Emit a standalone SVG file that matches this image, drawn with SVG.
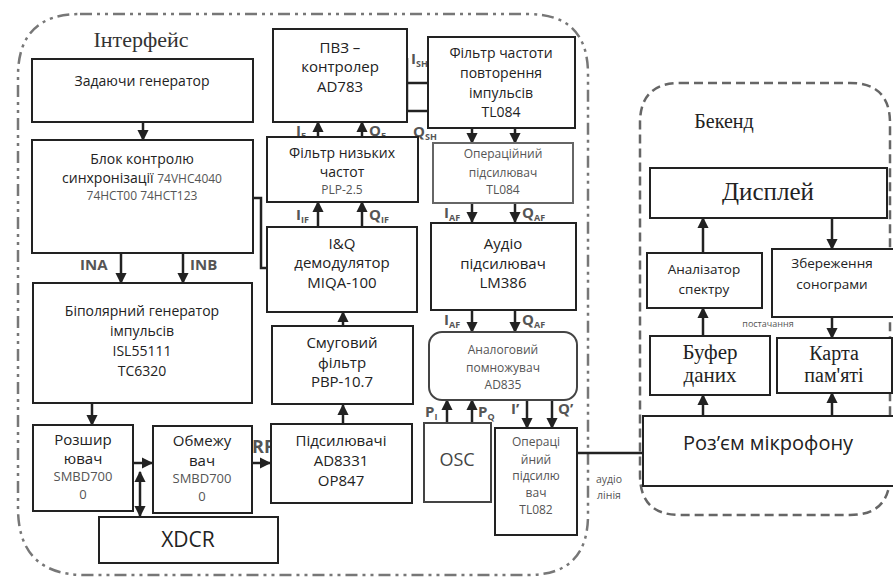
<svg xmlns="http://www.w3.org/2000/svg" width="893" height="578" viewBox="0 0 893 578">
<defs>
<marker id="ah" viewBox="0 0 10 10" refX="9" refY="5" markerWidth="4.5" markerHeight="4.5" orient="auto-start-reverse" markerUnits="strokeWidth">
<path d="M0,0 L10,5 L0,10 Z" fill="#222"/>
</marker>
<style>
.box{fill:#fff;stroke:#222;stroke-width:2}
.lbox{fill:#fff;stroke:#666;stroke-width:2}
.t{font-family:"Open Sans","Noto Sans",sans-serif;font-size:14px;fill:#222;text-anchor:middle}
.sm{font-size:12px;fill:#555}
.sf{font-family:"Liberation Serif","DejaVu Serif",serif;fill:#222;text-anchor:middle}
.c{fill:none;stroke:#222;stroke-width:2.5}
.a{fill:none;stroke:#222;stroke-width:2.5;marker-end:url(#ah)}
.lb{font-family:"Open Sans","Noto Sans",sans-serif;font-weight:bold;font-size:15px;fill:#555}
.sub{font-size:9px}
.frame1{fill:none;stroke:#777;stroke-width:2.5;stroke-dasharray:12 5 3 5 3 5}
.frame2{fill:none;stroke:#666;stroke-width:2.5;stroke-dasharray:9 5}
</style>
</defs>

<!-- frames -->
<path class="frame1" d="M80,14 H528 Q588,14 588,74 V515 Q588,575 528,575 H85 Q18,575 18,508 V76 Q18,14 80,14 Z"/>
<path class="frame2" d="M680,83 H850 Q890,83 890,123 V475 Q890,515 850,515 H680 Q640,515 640,475 V123 Q640,83 680,83 Z"/>
<text class="sf" x="141" y="47" style="font-size:22px;fill:#333">Інтерфейс</text>
<text class="sf" x="724" y="128" style="font-size:20px">Бекенд</text>

<!-- label behind box -->
<text class="lb" x="252" y="453" style="font-size:18px">RF</text>

<!-- connectors -->
<g id="connectors">
<line class="a" x1="143" y1="122" x2="143" y2="140"/>
<line class="a" x1="121" y1="253" x2="121" y2="283"/>
<line class="a" x1="183" y1="253" x2="183" y2="283"/>
<line class="a" x1="92" y1="403" x2="92" y2="425"/>
<line class="a" x1="134" y1="463" x2="152" y2="463"/>
<line class="a" x1="140" y1="495" x2="140" y2="516"/>
<line class="a" x1="140" y1="495" x2="140" y2="472"/>
<line class="a" x1="252" y1="463" x2="270" y2="463"/>
<line class="a" x1="343" y1="424" x2="343" y2="405"/>
<line class="a" x1="343" y1="326" x2="343" y2="312"/>
<polyline class="c" points="253,198 261,198 261,268 267,268"/>
<line class="a" x1="318" y1="227" x2="318" y2="202"/>
<line class="a" x1="362" y1="227" x2="362" y2="202"/>
<line class="a" x1="318" y1="137" x2="318" y2="122"/>
<line class="a" x1="362" y1="137" x2="362" y2="122"/>
<line class="c" x1="407" y1="58" x2="407" y2="112"/>
<line class="c" x1="407" y1="83" x2="428" y2="83"/>
<line class="c" x1="407" y1="111" x2="428" y2="111"/>
<line class="a" x1="472" y1="128" x2="472" y2="143"/>
<line class="a" x1="515" y1="128" x2="515" y2="143"/>
<line class="a" x1="472" y1="203" x2="472" y2="222"/>
<line class="a" x1="515" y1="203" x2="515" y2="222"/>
<line class="a" x1="472" y1="310" x2="472" y2="332"/>
<line class="a" x1="515" y1="310" x2="515" y2="332"/>
<line class="a" x1="447" y1="423" x2="447" y2="400"/>
<line class="a" x1="472" y1="423" x2="472" y2="400"/>
<line class="a" x1="527" y1="400" x2="527" y2="428"/>
<line class="a" x1="552" y1="400" x2="552" y2="428"/>
<line class="c" x1="577" y1="453" x2="643" y2="453"/>
<line class="a" x1="703" y1="253" x2="703" y2="218"/>
<line class="a" x1="832" y1="218" x2="832" y2="249"/>
<line class="a" x1="703" y1="336" x2="703" y2="308"/>
<line class="a" x1="832" y1="317" x2="832" y2="338"/>
<line class="a" x1="703" y1="416" x2="703" y2="395"/>
<line class="a" x1="832" y1="416" x2="832" y2="393"/>
</g>

<!-- signal labels -->
<g id="signal-labels">
<text class="lb" x="80" y="270">INA</text>
<text class="lb" x="190" y="270">INB</text>
<text class="lb" x="296" y="136">I<tspan class="sub" dy="3">F</tspan></text>
<text class="lb" x="369" y="136">Q<tspan class="sub" dy="3">F</tspan></text>
<text class="lb" x="296" y="220">I<tspan class="sub" dy="3">IF</tspan></text>
<text class="lb" x="369" y="220">Q<tspan class="sub" dy="3">IF</tspan></text>
<text class="lb" x="411" y="64">I<tspan class="sub" dy="3">SH</tspan></text>
<text class="lb" x="413" y="137">Q<tspan class="sub" dy="3">SH</tspan></text>
<text class="lb" x="444" y="218">I<tspan class="sub" dy="3">AF</tspan></text>
<text class="lb" x="522" y="218">Q<tspan class="sub" dy="3">AF</tspan></text>
<text class="lb" x="444" y="325">I<tspan class="sub" dy="3">AF</tspan></text>
<text class="lb" x="522" y="325">Q<tspan class="sub" dy="3">AF</tspan></text>
<text class="lb" x="425" y="417">P<tspan class="sub" dy="3">I</tspan></text>
<text class="lb" x="478" y="417">P<tspan class="sub" dy="3">Q</tspan></text>
<text class="lb" x="511" y="414">I’</text>
<text class="lb" x="558" y="414">Q’</text>
<text class="t" x="609" y="483" style="font-size:10.5px;fill:#555">аудіо</text>
<text class="t" x="609" y="499" style="font-size:10.5px;fill:#555">лінія</text>
<text class="t" x="768" y="327" style="font-size:9px;fill:#555">постачання</text>
</g>

<!-- interface nodes -->
<g id="zadayuchi">
<rect class="box" x="32" y="59" width="221" height="63"/>
<text class="t" x="142" y="86">Задаючи генератор</text>
</g>
<g id="blok-kontrolyu">
<rect class="box" x="32" y="140" width="221" height="113"/>
<text class="t" x="142" y="164">Блок контролю</text>
<text class="t" x="142" y="183">синхронізації <tspan class="sm">74VHC4040</tspan></text>
<text class="t sm" x="142" y="200">74HCT00 74HCT123</text>
</g>
<g id="bipolyarnyi">
<rect class="box" x="33" y="283" width="219" height="120"/>
<text class="t" x="142" y="316">Біполярний генератор</text>
<text class="t" x="142" y="336">імпульсів</text>
<text class="t" x="142" y="356">ISL55111</text>
<text class="t" x="142" y="376">TC6320</text>
</g>
<g id="rozshyryuvach">
<rect class="box" x="33" y="425" width="100" height="86"/>
<text class="t" x="83" y="445" style="font-size:15px">Розшир</text>
<text class="t" x="83" y="464" style="font-size:15px">ювач</text>
<text class="t" x="83" y="481" style="font-size:13px;fill:#555">SMBD700</text>
<text class="t" x="83" y="499" style="font-size:13px;fill:#555">0</text>
</g>
<g id="obmezhuvach">
<rect class="box" x="153" y="426" width="99" height="87"/>
<text class="t" x="202" y="446" style="font-size:15px">Обмежу</text>
<text class="t" x="202" y="466" style="font-size:15px">вач</text>
<text class="t" x="202" y="483" style="font-size:13px;fill:#555">SMBD700</text>
<text class="t" x="202" y="501" style="font-size:13px;fill:#555">0</text>
</g>
<g id="xdcr">
<rect class="box" x="99" y="517" width="179" height="46"/>
<text class="t" x="188" y="547" style="font-size:21px">XDCR</text>
</g>
<g id="pidsylyuvachi">
<rect class="box" x="271" y="424" width="141" height="79"/>
<text class="t" x="341" y="446" style="font-size:15px">Підсилювачі</text>
<text class="t" x="341" y="466" style="font-size:15px">AD8331</text>
<text class="t" x="341" y="486" style="font-size:15px">OP847</text>
</g>
<g id="smugovyi">
<rect class="box" x="272" y="326" width="141" height="78"/>
<text class="t" x="342" y="348" style="font-size:15px">Смуговий</text>
<text class="t" x="342" y="368" style="font-size:15px">фільтр</text>
<text class="t" x="342" y="387" style="font-size:15px">PBP-10.7</text>
</g>
<g id="iq-demodulator">
<rect class="box" x="267" y="227" width="150" height="85"/>
<text class="t" x="342" y="249" style="font-size:15px">I&amp;Q</text>
<text class="t" x="342" y="268" style="font-size:15px">демодулятор</text>
<text class="t" x="342" y="288" style="font-size:15px">MIQA-100</text>
</g>
<g id="filtr-nyzkykh">
<rect class="box" x="267" y="137" width="151" height="65"/>
<text class="t" x="342" y="158">Фільтр низьких</text>
<text class="t" x="342" y="177">частот</text>
<text class="t sm" x="342" y="194">PLP-2.5</text>
</g>
<g id="pvz">
<rect class="box" x="273" y="29" width="134" height="93"/>
<text class="t" x="340" y="53" style="font-size:15px">ПВЗ –</text>
<text class="t" x="340" y="72" style="font-size:15px">контролер</text>
<text class="t" x="340" y="92" style="font-size:15px">AD783</text>
</g>
<g id="filtr-chastoty">
<rect class="box" x="428" y="37" width="147" height="91"/>
<text class="t" x="501" y="58">Фільтр частоти</text>
<text class="t" x="501" y="78">повторення</text>
<text class="t" x="501" y="98">імпульсів</text>
<text class="t" x="501" y="117">TL084</text>
</g>
<g id="op-tl084">
<rect class="lbox" x="433" y="143" width="140" height="60"/>
<text class="t sm" x="503" y="158">Операційний</text>
<text class="t sm" x="503" y="177">підсилювач</text>
<text class="t sm" x="503" y="194">TL084</text>
</g>
<g id="audio-amp">
<rect class="box" x="431" y="223" width="145" height="87"/>
<text class="t" x="503" y="249" style="font-size:15px">Аудіо</text>
<text class="t" x="503" y="269" style="font-size:15px">підсилювач</text>
<text class="t" x="503" y="288" style="font-size:15px">LM386</text>
</g>
<g id="multiplier">
<rect class="box" x="429" y="332" width="148" height="68" rx="13" style="stroke:#444"/>
<text class="t sm" x="503" y="354">Аналоговий</text>
<text class="t sm" x="503" y="372">помножувач</text>
<text class="t sm" x="503" y="389">AD835</text>
</g>
<g id="osc">
<rect class="box" x="424" y="423" width="67" height="79" style="stroke:#444"/>
<text class="t" x="457" y="466" style="font-size:18px;fill:#444">OSC</text>
</g>
<g id="op-tl082">
<rect class="box" x="495" y="428" width="82" height="107"/>
<text class="t" x="536" y="446" style="font-size:12px;fill:#555">Операці</text>
<text class="t" x="536" y="464" style="font-size:12px;fill:#555">йний</text>
<text class="t" x="536" y="480" style="font-size:12px;fill:#555">підсилю</text>
<text class="t" x="536" y="497" style="font-size:12px;fill:#555">вач</text>
<text class="t" x="536" y="514" style="font-size:12px;fill:#555">TL082</text>
</g>

<!-- backend nodes -->
<g id="dysplei">
<rect class="box" x="650" y="168" width="237" height="50"/>
<text class="sf" x="768" y="200" style="font-size:25px">Дисплей</text>
</g>
<g id="analizator">
<rect class="box" x="647" y="253" width="115" height="55"/>
<text class="t" x="704" y="274" style="font-size:13.5px">Аналізатор</text>
<text class="t" x="704" y="294" style="font-size:13.5px">спектру</text>
</g>
<g id="zberezhennya">
<rect class="box" x="772" y="249" width="125" height="68"/>
<text class="t" x="832" y="268" style="font-size:13.5px">Збереження</text>
<text class="t" x="832" y="289" style="font-size:13.5px">сонограми</text>
</g>
<g id="bufer">
<rect class="box" x="650" y="336" width="120" height="59"/>
<text class="sf" x="710" y="359" style="font-size:21px">Буфер</text>
<text class="sf" x="710" y="382" style="font-size:21px">даних</text>
</g>
<g id="karta">
<rect class="box" x="777" y="338" width="115" height="55"/>
<text class="sf" x="834" y="360" style="font-size:20px">Карта</text>
<text class="sf" x="834" y="382" style="font-size:20px">пам'яті</text>
</g>
<g id="rozyem">
<rect class="box" x="643" y="416" width="260" height="70"/>
<text class="t" x="768" y="450" style="font-size:20px">Роз’єм мікрофону</text>
</g>
</svg>
